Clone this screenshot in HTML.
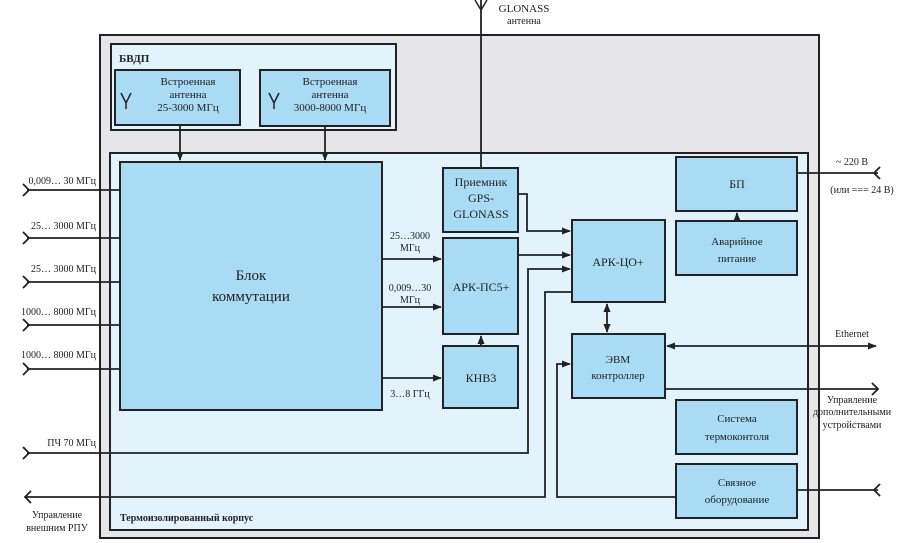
<!DOCTYPE html>
<html><head><meta charset="utf-8"><style>
html,body{margin:0;padding:0;background:#fff}
svg{display:block}
text{font-family:"Liberation Serif",serif;fill:#222}
</style></head><body>
<svg width="919" height="543" viewBox="0 0 919 543" xmlns="http://www.w3.org/2000/svg">
<defs>
<marker id="a" viewBox="0 0 10 10" refX="9" refY="5" markerWidth="5" markerHeight="5" orient="auto-start-reverse"><path d="M0,1 L10,5 L0,9 z" fill="#222"/></marker>
</defs>
<g stroke="#222" stroke-width="2">
<rect x="100" y="35" width="719" height="503" fill="#e6e6e9"/>
<rect x="111" y="44" width="285" height="86" fill="#e2f3fb"/>
<rect x="110" y="153" width="698" height="377" fill="#e2f3fb"/>
<g fill="#a9dcf4">
<rect x="115" y="70" width="125" height="55"/>
<rect x="260" y="70" width="130" height="56"/>
<rect x="120" y="162" width="262" height="248"/>
<rect x="443" y="168" width="75" height="64"/>
<rect x="443" y="238" width="75" height="96"/>
<rect x="443" y="346" width="75" height="62"/>
<rect x="572" y="220" width="93" height="82"/>
<rect x="572" y="334" width="93" height="64"/>
<rect x="676" y="157" width="121" height="54"/>
<rect x="676" y="221" width="121" height="54"/>
<rect x="676" y="400" width="121" height="54"/>
<rect x="676" y="464" width="121" height="54"/>
</g>
</g>
<g stroke="#222" stroke-width="1.8" fill="none">
<line x1="27" y1="190" x2="120" y2="190"/>
<line x1="27" y1="238" x2="120" y2="238"/>
<line x1="27" y1="282" x2="120" y2="282"/>
<line x1="27" y1="325" x2="120" y2="325"/>
<line x1="27" y1="369" x2="120" y2="369"/>
<polyline points="27,453 528,453 528,269 570,269" marker-end="url(#a)"/>
<polyline points="572,292 545,292 545,497 25,497"/>
<polyline points="676,497 557,497 557,364 570,364" marker-end="url(#a)"/>
<line x1="797" y1="490" x2="878" y2="490"/>
<!-- chevrons -->
<path d="M23,184 L29,190 L23,196 M23,232 L29,238 L23,244 M23,276 L29,282 L23,288 M23,319 L29,325 L23,331 M23,363 L29,369 L23,375 M23,447 L29,453 L23,459"/>
<path d="M31,491 L25,497 L31,503"/>
<path d="M880,484 L874,490 L880,496"/>
<path d="M880,167 L874,173 L880,179"/>
<path d="M872,383 L878,389 L872,395"/>
<line x1="180" y1="126" x2="180" y2="160" marker-end="url(#a)"/>
<line x1="325" y1="126" x2="325" y2="160" marker-end="url(#a)"/>
<line x1="481" y1="0" x2="481" y2="168"/>
<path d="M475,0 L481,10 L487,0" stroke-width="1.5"/>
<line x1="382" y1="259" x2="441" y2="259" marker-end="url(#a)"/>
<line x1="382" y1="307" x2="441" y2="307" marker-end="url(#a)"/>
<line x1="382" y1="378" x2="441" y2="378" marker-end="url(#a)"/>
<line x1="481" y1="346" x2="481" y2="336" marker-end="url(#a)"/>
<polyline points="518,194 527,194 527,231 570,231" marker-end="url(#a)"/>
<line x1="518" y1="255" x2="570" y2="255" marker-end="url(#a)"/>
<line x1="607" y1="304" x2="607" y2="332" marker-start="url(#a)" marker-end="url(#a)"/>
<line x1="737" y1="221" x2="737" y2="213" marker-end="url(#a)"/>
<line x1="667" y1="346" x2="876" y2="346" marker-start="url(#a)" marker-end="url(#a)"/>
<line x1="665" y1="389" x2="878" y2="389"/>
<line x1="797" y1="173" x2="878" y2="173"/>
<path d="M121,93 L126,103 L131,93 M126,103 L126,109" stroke-width="1.5"/>
<path d="M269,93 L274,103 L279,93 M274,103 L274,109" stroke-width="1.5"/>
</g>
<g font-size="11" text-anchor="middle">
<text x="188" y="85">Встроенная</text><text x="188" y="98">антенна</text><text x="188" y="111">25-3000 МГц</text>
<text x="330" y="85">Встроенная</text><text x="330" y="98">антенна</text><text x="330" y="111">3000-8000 МГц</text>
<text x="481" y="186" font-size="12">Приемник</text><text x="481" y="202" font-size="12">GPS-</text><text x="481" y="218" font-size="12">GLONASS</text>
<text x="481" y="291" font-size="12">АРК-ПС5+</text>
<text x="481" y="382" font-size="12">КНВ3</text>
<text x="618" y="266" font-size="12">АРК-ЦО+</text>
<text x="618" y="363">ЭВМ</text><text x="618" y="379">контроллер</text>
<text x="737" y="188" font-size="12">БП</text>
<text x="737" y="245">Аварийное</text><text x="737" y="262">питание</text>
<text x="737" y="422">Система</text><text x="737" y="440">термоконтоля</text>
<text x="737" y="486">Связное</text><text x="737" y="503">оборудование</text>
<text x="251" y="280" font-size="15">Блок</text><text x="251" y="301" font-size="15">коммутации</text>
<text x="410" y="239" font-size="10">25…3000</text><text x="410" y="251" font-size="10">МГц</text>
<text x="410" y="291" font-size="10">0,009…30</text><text x="410" y="303" font-size="10">МГц</text>
<text x="410" y="397" font-size="10">3…8 ГГц</text>
<text x="57" y="518" font-size="10">Управление</text><text x="57" y="531" font-size="10">внешним РПУ</text>
<text x="852" y="337" font-size="10">Ethernet</text>
<text x="852" y="403" font-size="10">Управление</text><text x="852" y="415" font-size="10">дополнительными</text><text x="852" y="428" font-size="10">устройствами</text>
<text x="852" y="165" font-size="10">~ 220 В</text><text x="862" y="193" font-size="10">(или === 24 В)</text>
<text x="524" y="12" font-size="11">GLONASS</text><text x="524" y="24" font-size="10">антенна</text>
</g>
<g font-size="10" text-anchor="end">
<text x="96" y="184">0,009… 30 МГц</text>
<text x="96" y="229">25… 3000 МГц</text>
<text x="96" y="272">25… 3000 МГц</text>
<text x="96" y="315">1000… 8000 МГц</text>
<text x="96" y="358">1000… 8000 МГц</text>
<text x="96" y="446">ПЧ 70 МГц</text>
</g>
<text x="119" y="62" font-size="11" font-weight="bold">БВДП</text>
<text x="120" y="521" font-size="10" font-weight="bold">Термоизолированный корпус</text>
</svg>
</body></html>
